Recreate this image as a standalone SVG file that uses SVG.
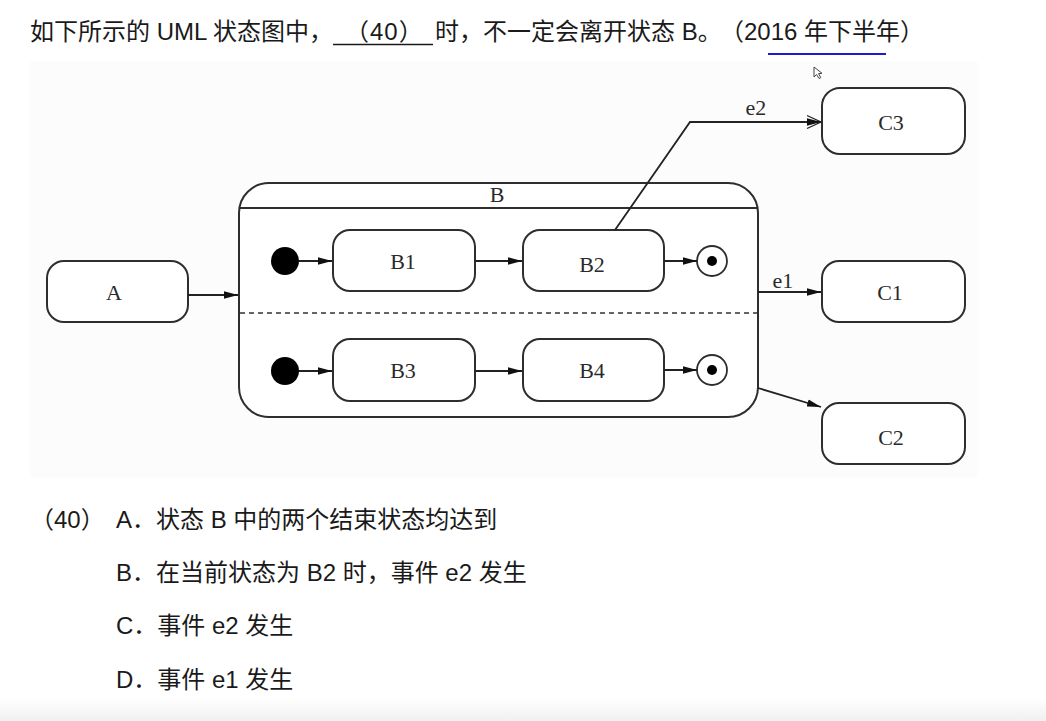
<svg xmlns="http://www.w3.org/2000/svg" width="1046" height="721" viewBox="0 0 1046 721">
  <style>
    .q { font-family: "Liberation Sans", "Noto Sans CJK SC", sans-serif; font-size: 24px; fill: #1a1a1a; }
    .st { fill: #ffffff; stroke: #2e2e2e; stroke-width: 2; }
    .lbl { font-family: "Liberation Serif", "DejaVu Serif", serif; font-size: 22px; fill: #2a2a2a; text-anchor: middle; }
    .edge { fill: none; stroke: #222222; stroke-width: 1.8; }
  </style>
  <defs>
    <marker id="arr" viewBox="0 0 14 9" refX="14" refY="4.5" markerWidth="14" markerHeight="9" markerUnits="userSpaceOnUse" orient="auto">
      <path d="M0,0.8 L14,4.5 L0,8.2 z" fill="#111111"/>
    </marker>
    <linearGradient id="foot" x1="0" y1="0" x2="0" y2="1">
      <stop offset="0" stop-color="#ffffff"/>
      <stop offset="1" stop-color="#f0f0f0"/>
    </linearGradient>
  </defs>

  <rect x="0" y="0" width="1046" height="721" fill="#ffffff"/>
  <!-- faint backdrop of the diagram area -->
  <rect x="30" y="62" width="948" height="416" fill="#fcfcfc"/>
  <!-- light band along the bottom edge -->
  <rect x="0" y="698" width="1046" height="23" fill="url(#foot)"/>

  <!-- question line -->
  <g id="question">
    <text class="q" x="30" y="40">如下所示的 UML 状态图中，</text>
    <line x1="333" y1="44.5" x2="433" y2="44.5" stroke="#1a1a1a" stroke-width="1.6"/>
    <text class="q" x="345" y="40" letter-spacing="1">（40）</text>
    <text class="q" x="435" y="40">时，不一定会离开状态 B。</text>
    <text class="q" x="720" y="40">（2016 年下半年）</text>
    <line x1="768" y1="54" x2="886" y2="54" stroke="#1c1cc8" stroke-width="2"/>
    <!-- pointer -->
    <path d="M814,67 L814,77 L816.5,74.5 L819,78.5 L820.8,77.6 L818.5,73.6 L822,73.3 Z" fill="#ffffff" stroke="#444444" stroke-width="1"/>
  </g>

  <!-- composite state B -->
  <g id="B">
    <rect class="st" x="239" y="183" width="519" height="234" rx="30" ry="30"/>
    <line x1="239" y1="208" x2="758" y2="208" stroke="#2e2e2e" stroke-width="2"/>
    <line x1="240" y1="313" x2="757" y2="313" stroke="#333333" stroke-width="1.7" stroke-dasharray="5,4"/>
    <text class="lbl" x="497" y="202">B</text>
  </g>

  <g id="init1"><circle cx="285" cy="261" r="14" fill="#000000"/></g>
  <g id="init2"><circle cx="285" cy="371" r="14" fill="#000000"/></g>

  <g id="B1">
    <rect class="st" x="333" y="230" width="142" height="61" rx="17" ry="17"/>
    <text class="lbl" x="403" y="269">B1</text>
  </g>
  <g id="B2">
    <rect class="st" x="523" y="230" width="141" height="61" rx="17" ry="17"/>
    <text class="lbl" x="592" y="272">B2</text>
  </g>
  <g id="B3">
    <rect class="st" x="333" y="339" width="142" height="62" rx="17" ry="17"/>
    <text class="lbl" x="403" y="378">B3</text>
  </g>
  <g id="B4">
    <rect class="st" x="523" y="339" width="141" height="62" rx="17" ry="17"/>
    <text class="lbl" x="592" y="378">B4</text>
  </g>

  <g id="final1">
    <circle cx="712" cy="261" r="15" fill="#ffffff" stroke="#2e2e2e" stroke-width="1.8"/>
    <circle cx="712" cy="261" r="5" fill="#000000"/>
  </g>
  <g id="final2">
    <circle cx="712" cy="370" r="15" fill="#ffffff" stroke="#2e2e2e" stroke-width="1.8"/>
    <circle cx="712" cy="370" r="5" fill="#000000"/>
  </g>

  <g id="A">
    <rect class="st" x="47" y="261" width="141" height="61" rx="17" ry="17"/>
    <text class="lbl" x="114" y="300">A</text>
  </g>
  <g id="C3">
    <rect class="st" x="822" y="88" width="143" height="66" rx="18" ry="18"/>
    <text class="lbl" x="891" y="130">C3</text>
  </g>
  <g id="C1">
    <rect class="st" x="822" y="261" width="143" height="61" rx="17" ry="17"/>
    <text class="lbl" x="890" y="300">C1</text>
  </g>
  <g id="C2">
    <rect class="st" x="822" y="403" width="143" height="61" rx="17" ry="17"/>
    <text class="lbl" x="891" y="445">C2</text>
  </g>

  <!-- transitions -->
  <g id="connectors">
    <line class="edge" x1="188" y1="295" x2="238" y2="295" marker-end="url(#arr)"/>
    <line class="edge" x1="299" y1="261" x2="332" y2="261" marker-end="url(#arr)"/>
    <line class="edge" x1="299" y1="371" x2="332" y2="371" marker-end="url(#arr)"/>
    <line class="edge" x1="475" y1="261" x2="522" y2="261" marker-end="url(#arr)"/>
    <line class="edge" x1="475" y1="371" x2="522" y2="371" marker-end="url(#arr)"/>
    <line class="edge" x1="664" y1="261" x2="697" y2="261" marker-end="url(#arr)"/>
    <line class="edge" x1="664" y1="370" x2="697" y2="370" marker-end="url(#arr)"/>
    <polyline class="edge" points="615,230 690,122 821,122" marker-end="url(#arr)"/>
    <path d="M807,115.5 L821,122 L807,128.5" fill="none" stroke="#222222" stroke-width="1.3"/>
    <text class="lbl" x="756" y="115">e2</text>
    <line class="edge" x1="758" y1="292" x2="821" y2="292" marker-end="url(#arr)"/>
    <text class="lbl" x="783" y="288">e1</text>
    <line class="edge" x1="758" y1="388" x2="821" y2="407" marker-end="url(#arr)"/>
  </g>

  <!-- answer choices -->
  <g id="choices">
    <text class="q" x="30" y="528">（40）</text>
    <text class="q" x="116" y="528">A．状态 B 中的两个结束状态均达到</text>
    <text class="q" x="116" y="581">B．在当前状态为 B2 时，事件 e2 发生</text>
    <text class="q" x="116" y="634">C．事件 e2 发生</text>
    <text class="q" x="116" y="688">D．事件 e1 发生</text>
  </g>
</svg>
